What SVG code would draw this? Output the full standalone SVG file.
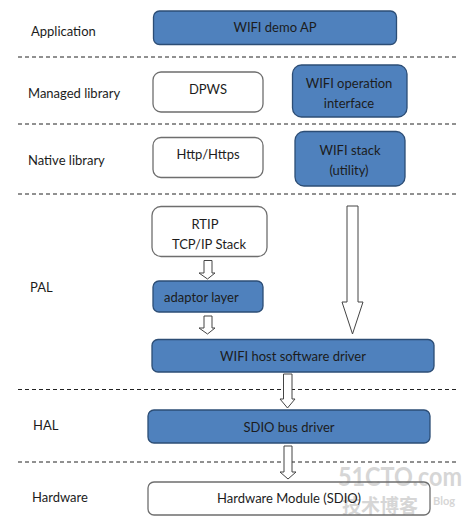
<svg xmlns="http://www.w3.org/2000/svg" width="476" height="529" viewBox="0 0 476 529">
<style>
text{font-family:"Lato","Carlito","Open Sans",sans-serif;font-size:13px;fill:#1c1c1c}
.c{text-anchor:middle}
.b{fill:#4f81bd;stroke:#2c4d75;stroke-width:1.3}
.w{fill:#fff;stroke:#6e6e6e;stroke-width:1.3}
.d{stroke:#222;stroke-width:1;stroke-dasharray:4 3;fill:none}
.a{fill:#fff;stroke:#444;stroke-width:1}
.m{fill:#d6d6d6;font-weight:700}
</style>
<rect width="476" height="529" fill="#fff"/>
<g id="separators">
<path class="d" d="M18 57H457M18 124H457M18 194H457M18 389.500H457M18 462H457"/>
</g>
<g id="watermark">
<text class="m" x="338" y="486" textLength="124" lengthAdjust="spacingAndGlyphs" style="font-size:26px">51CTO.com</text>
<text class="m" x="342" y="513" style="font-size:19px;font-family:'Noto Sans CJK SC',sans-serif">技术博客</text>
<text class="m" x="433" y="505" style="font-size:11px">Blog</text>
</g>
<g id="labels">
<text x="31" y="36">Application</text>
<text x="28" y="98">Managed library</text>
<text x="28" y="165">Native library</text>
<text x="30" y="292">PAL</text>
<text x="33" y="430">HAL</text>
<text x="32" y="502">Hardware</text>
</g>
<g id="connectors">
<polygon class="a" points="204,260.500 212,260.500 212,273 215,273 207.500,279 199,273 204,273"/>
<polygon class="a" points="204,316 212,316 212,328 215,328 207.500,334 199,328 204,328"/>
<polygon class="a" points="347,206 358,206 358,302 363,302 352.500,334 342,302 347,302"/>
<polygon class="a" points="283.500,374 292,374 292,399 295,399 287.500,408 280,399 283.500,399"/>
<polygon class="a" points="284,446 292,446 292,472 296,472 288,479 280,472 284,472"/>
</g>
<g id="wifi-demo-ap"><rect class="b" x="153.500" y="11" width="243" height="33.500" rx="6"/><text class="c" x="275" y="32">WIFI demo AP</text></g>
<g id="dpws"><rect class="w" x="153" y="72" width="110" height="40" rx="8"/><text class="c" x="208" y="94">DPWS</text></g>
<g id="wifi-operation-interface"><rect class="b" x="292.500" y="65" width="114.500" height="52" rx="9"/><text class="c" x="349" y="88">WIFI operation</text><text class="c" x="349" y="108">interface</text></g>
<g id="http-https"><rect class="w" x="153" y="137.500" width="110" height="40" rx="8"/><text class="c" x="208" y="159">Http/Https</text></g>
<g id="wifi-stack"><rect class="b" x="295" y="131.500" width="110" height="54.500" rx="9"/><text class="c" x="350" y="155">WIFI stack</text><text class="c" x="349" y="175">(utility)</text></g>
<g id="rtip"><rect class="w" x="152" y="206.500" width="115" height="50" rx="9"/><text class="c" x="205" y="229">RTIP</text><text class="c" x="209" y="249">TCP/IP Stack</text></g>
<g id="adaptor-layer"><rect class="b" x="153" y="281" width="110" height="31" rx="6"/><text x="164" y="302">adaptor layer</text></g>
<g id="wifi-host-software-driver"><rect class="b" x="152" y="339.500" width="282" height="32.500" rx="6"/><text class="c" x="293" y="361">WIFI host software driver</text></g>
<g id="sdio-bus-driver"><rect class="b" x="148" y="410" width="282" height="33" rx="6"/><text class="c" x="289" y="432">SDIO bus driver</text></g>
<g id="hardware-module"><rect x="148" y="482" width="282" height="33" rx="6" fill="none" stroke="#6e6e6e" stroke-width="1.300"/><text class="c" x="289" y="503">Hardware Module (SDIO)</text></g>
</svg>
